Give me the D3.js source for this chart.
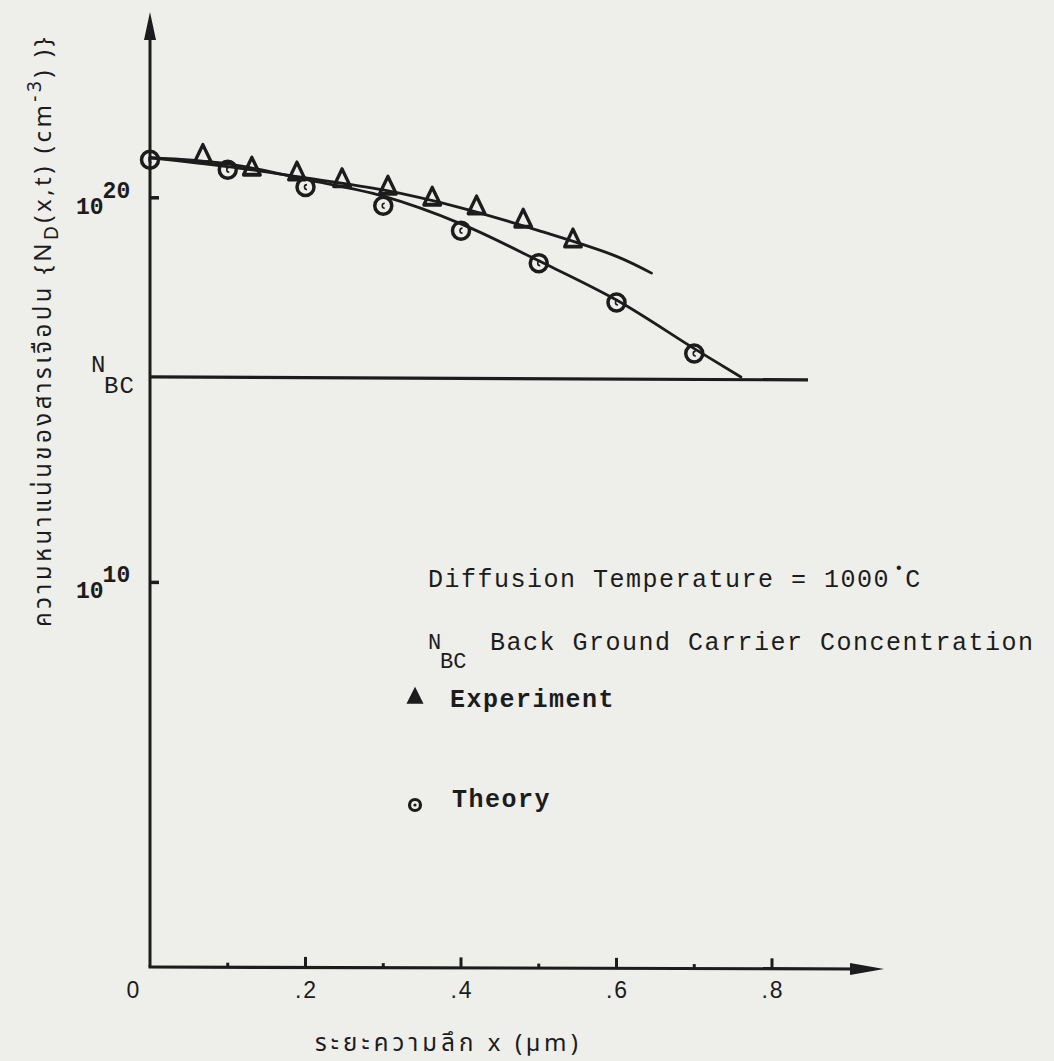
<!DOCTYPE html>
<html>
<head>
<meta charset="utf-8">
<script src="https://cdn.jsdelivr.net/npm/d3@7"></script>
<style>
  html, body { margin: 0; padding: 0; background: #efefec; }
  svg { display: block; }
</style>
</head>
<body>
<div id="chart"></div>
<script>
// ---------------- data ----------------
const xMajorTicks = [0.2, 0.4, 0.6, 0.8];
const xMajorLabels = [".2", ".4", ".6", ".8"];
const xMinorTicks = [0.1, 0.3, 0.5, 0.7];
const xZeroLabel = "0";
const yTicks = [1e10, 1e20];
const yTickBase = ["10", "10"];
const yTickExp = ["10", "20"];
const nbcLevel = 2.2e15;

// Theory points (circles)
const theoryX = [0, 0.1, 0.2, 0.3, 0.4, 0.5, 0.6, 0.7];
const theoryY = [9.8e20, 5.4e20, 1.9e20, 6.2e19, 1.4e19, 2.0e18, 1.9e17, 8.9e15];
// Theory curve
const theoryCurveX = [0, 0.1, 0.2, 0.3, 0.4, 0.5, 0.6, 0.7, 0.76];
const theoryCurveY = [1.1e21, 7.6e20, 3.0e20, 1.1e20, 2.1e19, 2.3e18, 2.2e17, 1.2e16, 2.2e15];

// Experiment points (triangles)
const expX = [0.068, 0.131, 0.189, 0.247, 0.306, 0.363, 0.42, 0.48, 0.544];
const expY = [1.2e21, 5.6e20, 4.2e20, 2.8e20, 1.8e20, 9.3e19, 5.5e19, 2.5e19, 7.6e18];
// Experiment curve
const expCurveX = [0, 0.1, 0.2, 0.3, 0.4, 0.5, 0.6, 0.645];
const expCurveY = [1.1e21, 6.5e20, 3.3e20, 1.6e20, 5.5e19, 1.4e19, 3.0e18, 1.1e18];

const legendTitle = "Diffusion Temperature = 1000";
const legendNbcText = "Back Ground Carrier Concentration";
const legendExp = "Experiment";
const legendTheory = "Theory";
const xTitle = "ระยะความลึก x (µm)";

// ---------------- layout ----------------
const W = 1054, H = 1061;
const ink = "#1c1c1c";
const mono = "'Liberation Mono', 'DejaVu Sans Mono', monospace";
const thai = "'Noto Sans Thai', 'Loma', 'Garuda', 'Norasi', 'DejaVu Sans', sans-serif";

const x = d3.scaleLinear().domain([0, 0.8]).range([150, 772]);
const y = d3.scaleLog().domain([1, 1e25]).range([967, 5.5]);

const svg = d3.select("#chart").append("svg")
  .attr("width", W).attr("height", H)
  .attr("viewBox", `0 0 ${W} ${H}`);

svg.append("rect").attr("width", W).attr("height", H).attr("fill", "#eeeeeb");

const x0 = x(0), yBase = y(1);

// fit a text to a target length via letter-spacing
function fitLength(sel, target) {
  const node = sel.node();
  const len = node.getComputedTextLength();
  const n = node.textContent.length;
  if (n > 1) sel.attr("letter-spacing", (target - len) / (n - 1));
}

// Y axis with arrow
svg.append("line")
  .attr("x1", x0).attr("y1", yBase).attr("x2", x0).attr("y2", 30)
  .attr("stroke", ink).attr("stroke-width", 3);
svg.append("path")
  .attr("d", `M${x0},12 L${x0 - 6},40 L${x0 + 6},40 Z`)
  .attr("fill", ink);

// X axis with arrow
svg.append("line")
  .attr("x1", x0 - 1.5).attr("y1", yBase).attr("x2", 860).attr("y2", yBase + 2)
  .attr("stroke", ink).attr("stroke-width", 3.2);
svg.append("path")
  .attr("d", `M884,${yBase + 2} L850,${yBase - 4} L850,${yBase + 8} Z`)
  .attr("fill", ink);

// X ticks
svg.selectAll(".xmaj").data(xMajorTicks).enter().append("line")
  .attr("x1", d => x(d)).attr("x2", d => x(d))
  .attr("y1", d => yBase + x(d) * 0.003).attr("y2", d => yBase - 11 + x(d) * 0.003)
  .attr("stroke", ink).attr("stroke-width", 3);
svg.selectAll(".xmin").data(xMinorTicks).enter().append("line")
  .attr("x1", d => x(d)).attr("x2", d => x(d))
  .attr("y1", d => yBase + x(d) * 0.003).attr("y2", d => yBase - 5 + x(d) * 0.003)
  .attr("stroke", ink).attr("stroke-width", 3);

svg.selectAll(".xlab").data(xMajorTicks).enter().append("text")
  .attr("x", d => x(d) + 1).attr("y", 998)
  .attr("text-anchor", "middle")
  .attr("font-family", "'Liberation Sans', Arial, sans-serif")
  .attr("font-size", 23).attr("letter-spacing", 2).attr("fill", ink)
  .text((d, i) => xMajorLabels[i]);
svg.append("text")
  .attr("x", x(0) - 17).attr("y", 998)
  .attr("text-anchor", "middle")
  .attr("font-family", "'Liberation Sans', Arial, sans-serif")
  .attr("font-size", 23).attr("fill", ink)
  .text(xZeroLabel);

// Y ticks
svg.selectAll(".ytick").data(yTicks).enter().append("line")
  .attr("x1", x0).attr("x2", x0 + 9)
  .attr("y1", d => y(d)).attr("y2", d => y(d))
  .attr("stroke", ink).attr("stroke-width", 3.5);

const ylab = svg.selectAll(".ylab").data(yTicks).enter().append("text")
  .attr("x", 76).attr("y", d => y(d) + 16)
  .attr("font-family", mono).attr("font-size", 23).attr("font-weight", "bold").attr("fill", ink);
ylab.append("tspan").text((d, i) => yTickBase[i]);
ylab.append("tspan").attr("dy", -16).attr("dx", -1).text((d, i) => yTickExp[i]);

// NBC line and label
const yN = y(nbcLevel);
svg.append("line")
  .attr("x1", x0).attr("x2", 808)
  .attr("y1", yN).attr("y2", yN + 3)
  .attr("stroke", ink).attr("stroke-width", 3.2);
svg.append("text")
  .attr("x", 91).attr("y", yN - 5)
  .attr("font-family", mono).attr("font-size", 24).attr("fill", ink)
  .text("N");
svg.append("text")
  .attr("x", 104).attr("y", yN + 16)
  .attr("font-family", mono).attr("font-size", 24).attr("letter-spacing", 1).attr("fill", ink)
  .text("BC");

// Curves
const line = d3.line().x(d => x(d[0])).y(d => y(d[1])).curve(d3.curveCatmullRom.alpha(0.5));
svg.append("path")
  .attr("d", line(expCurveX.map((v, i) => [v, expCurveY[i]])))
  .attr("fill", "none").attr("stroke", ink).attr("stroke-width", 2.8).attr("stroke-linecap", "round");
svg.append("path")
  .attr("d", line(theoryCurveX.map((v, i) => [v, theoryCurveY[i]])))
  .attr("fill", "none").attr("stroke", ink).attr("stroke-width", 2.8).attr("stroke-linecap", "round");

// Theory circles
const circG = svg.selectAll(".th").data(theoryX).enter().append("g")
  .attr("transform", (d, i) => `translate(${x(d)},${y(theoryY[i])})`);
circG.append("circle").attr("r", 8.5).attr("fill", "none").attr("stroke", ink).attr("stroke-width", 3.5);
circG.append("path").attr("d", "M1.5,-2.5 A2.5,2.5 0 1 0 1.5,2.5")
  .attr("fill", "none").attr("stroke", ink).attr("stroke-width", 1.6);

// Experiment triangles
const tri = d3.symbol().type(d3.symbolTriangle).size(120);
svg.selectAll(".ex").data(expX).enter().append("path")
  .attr("d", tri())
  .attr("transform", (d, i) => `translate(${x(d)},${y(expY[i])}) scale(1,1.2)`)
  .attr("fill", "none").attr("stroke", ink).attr("stroke-width", 3.2).attr("stroke-linejoin", "round");

// Legend
const legFont = { family: mono, size: 25, spacing: 1.5 };
const t1 = svg.append("text").attr("x", 428).attr("y", 587)
  .attr("font-family", legFont.family).attr("font-size", legFont.size)
  .attr("letter-spacing", legFont.spacing).attr("fill", ink);
t1.append("tspan").text(legendTitle);
t1.append("tspan").attr("dx", 4).attr("dy", -14).attr("font-size", 16).text("•");
t1.append("tspan").attr("dx", 0).attr("dy", 14).text("C");

svg.append("text").attr("x", 428).attr("y", 649)
  .attr("font-family", legFont.family).attr("font-size", 22).attr("fill", ink)
  .text("N");
svg.append("text").attr("x", 440).attr("y", 668)
  .attr("font-family", legFont.family).attr("font-size", 22).attr("fill", ink)
  .text("BC");
svg.append("text").attr("x", 490).attr("y", 650)
  .attr("font-family", legFont.family).attr("font-size", legFont.size)
  .attr("letter-spacing", legFont.spacing).attr("fill", ink)
  .text(legendNbcText);

svg.append("path")
  .attr("d", d3.symbol().type(d3.symbolTriangle).size(70)())
  .attr("transform", "translate(415,698) scale(1,1.15)")
  .attr("fill", ink).attr("stroke", ink).attr("stroke-width", 2.5);
svg.append("text").attr("x", 450).attr("y", 707)
  .attr("font-family", legFont.family).attr("font-size", legFont.size)
  .attr("letter-spacing", legFont.spacing).attr("font-weight", "bold").attr("fill", ink)
  .text(legendExp);

const lc = svg.append("g").attr("transform", "translate(415,805)");
lc.append("circle").attr("r", 5.5).attr("fill", "none").attr("stroke", ink).attr("stroke-width", 3.2);
lc.append("circle").attr("r", 1.6).attr("fill", ink);
svg.append("text").attr("x", 452).attr("y", 807)
  .attr("font-family", legFont.family).attr("font-size", legFont.size)
  .attr("letter-spacing", legFont.spacing).attr("font-weight", "bold").attr("fill", ink)
  .text(legendTheory);

// X title
const xt = svg.append("text").attr("x", 315).attr("y", 1051)
  .attr("font-family", thai)
  .attr("font-size", 24).attr("fill", ink)
  .text(xTitle);
fitLength(xt, 267);

// Y title (rotated)
const yt = svg.append("text")
  .attr("transform", "translate(51,627) rotate(-90)")
  .attr("font-family", thai)
  .attr("font-size", 24).attr("fill", ink);
yt.append("tspan").text("ความหนาแน่นของสารเจือปน {N");
yt.append("tspan").attr("dy", 7).attr("font-size", 19).text("D");
yt.append("tspan").attr("dy", -7).text("(x,t)  (cm");
yt.append("tspan").attr("dy", -10).attr("font-size", 19).text("-3");
yt.append("tspan").attr("dy", 10).text(") )}");
fitLength(yt, 600);
</script>
</body>
</html>
